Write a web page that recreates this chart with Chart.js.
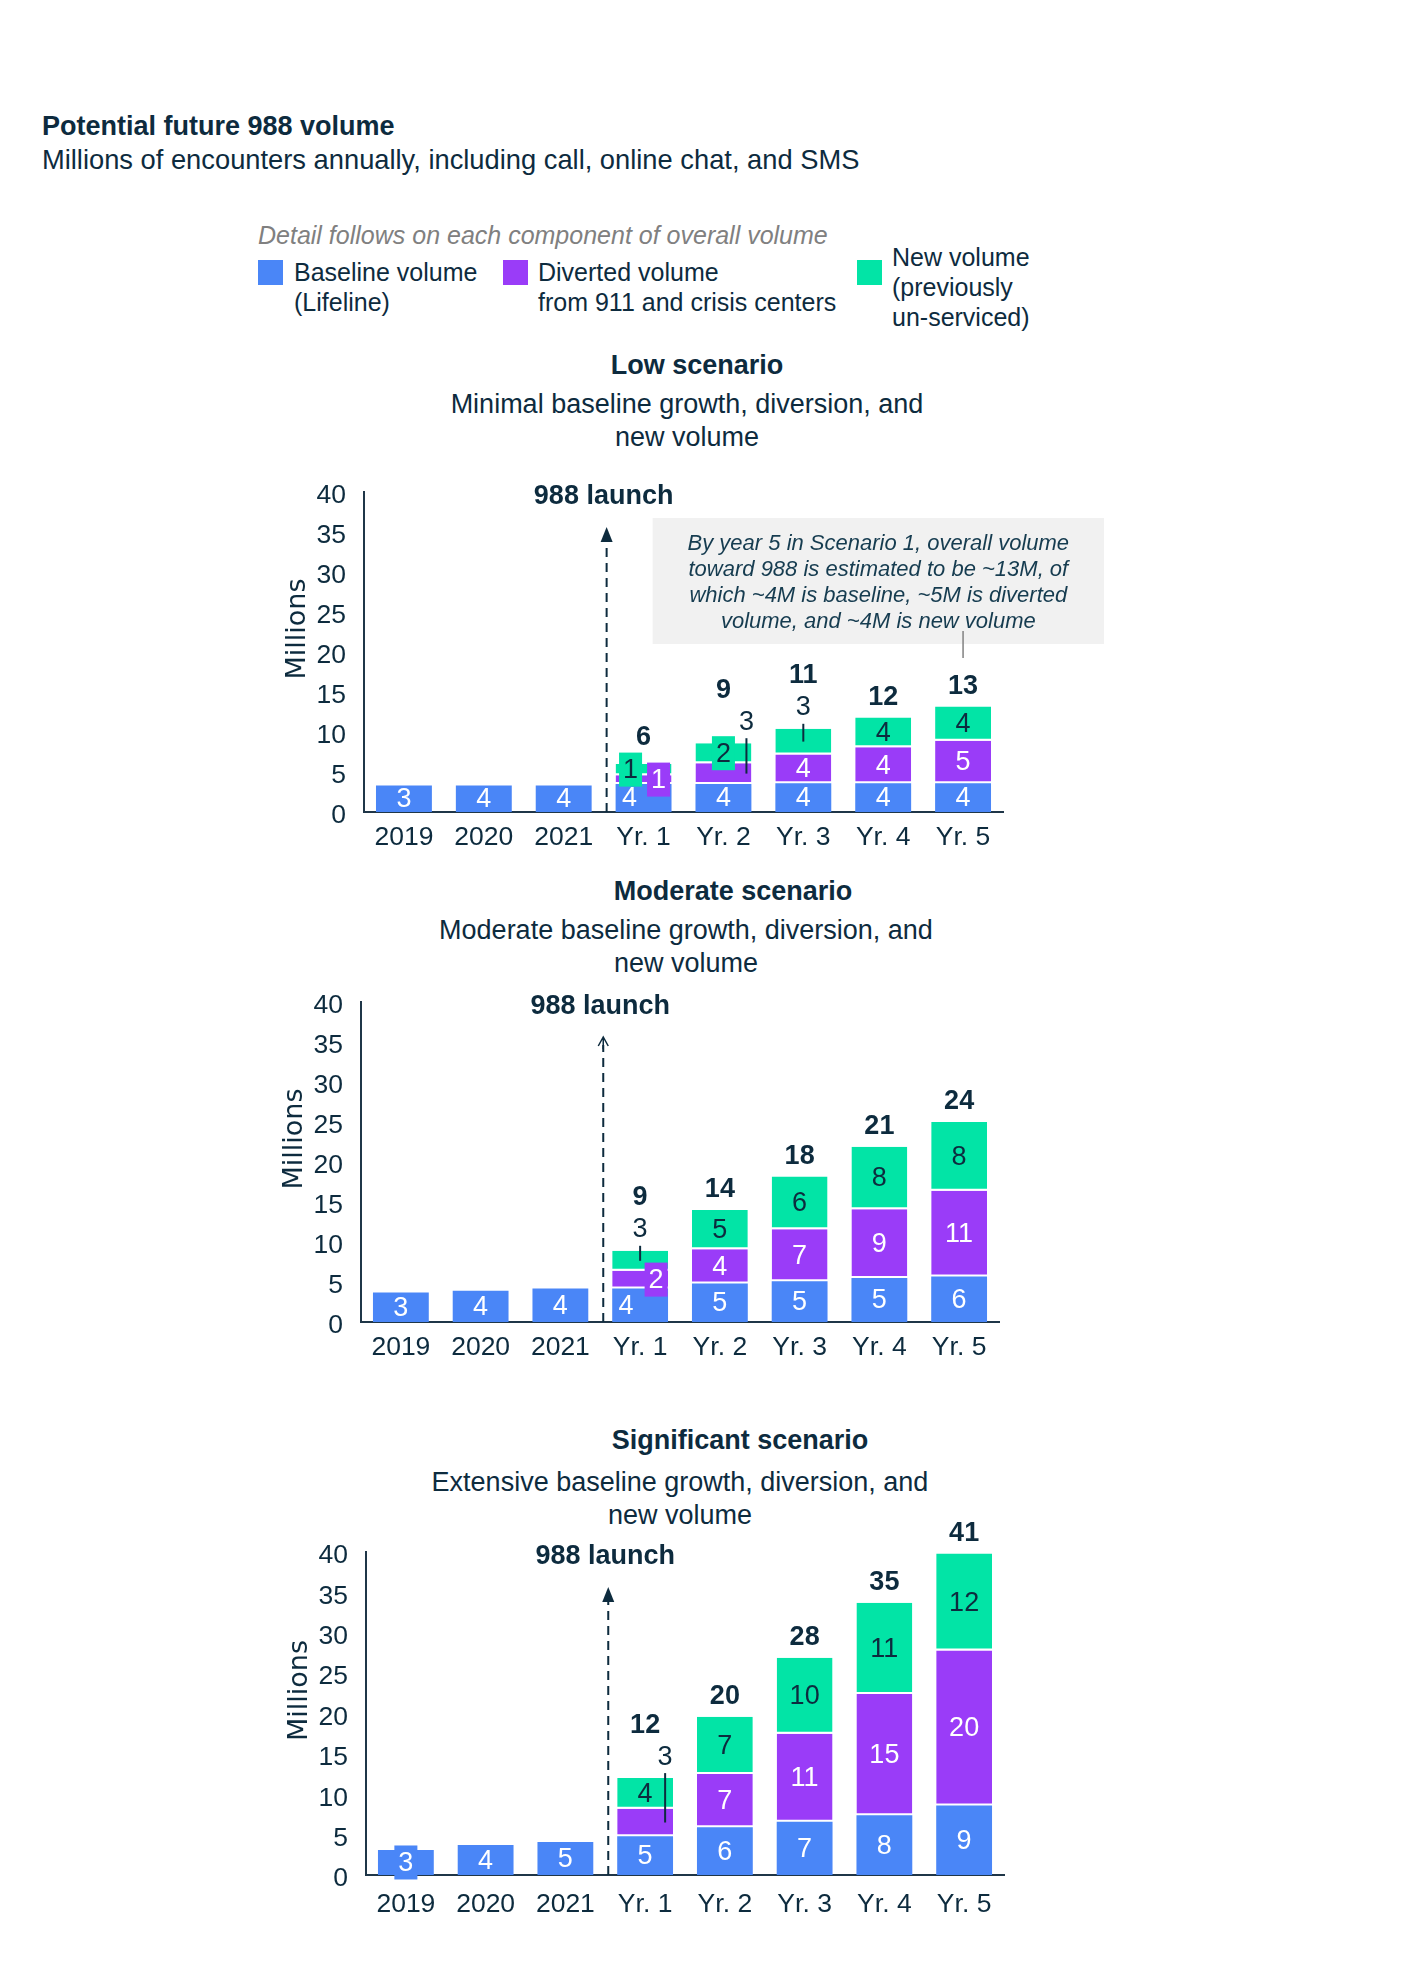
<!DOCTYPE html>
<html lang="en">
<head>
<meta charset="UTF-8">
<title>Potential future 988 volume</title>
<script src="https://cdn.jsdelivr.net/npm/chart.js"></script>
<style>
  body { margin: 0; background: #fff; }
  #page { position: relative; width: 1428px; height: 1964px; font-family: "Liberation Sans", Arial, sans-serif; color: #0d2b3e; }
  .t { position: absolute; white-space: nowrap; }
  .c { text-align: center; width: 800px; }
  .sw { position: absolute; width: 25px; height: 25px; }
  canvas { position: absolute; left: 0; }
</style>
</head>
<body>
<div id="page">
  <div class="t" style="left:42px; top:110px; font-size:27px; line-height:32px; font-weight:bold;">Potential future 988 volume</div>
  <div class="t" style="left:42px; top:144px; font-size:27.3px; line-height:32px;">Millions of encounters annually, including call, online chat, and SMS</div>

  <!-- legend -->
  <div class="t" style="left:258px; top:220px; font-size:25px; line-height:30px; font-style:italic; color:#808080;">Detail follows on each component of overall volume</div>
  <div class="sw" style="left:258px; top:260px; background:#4a86f7;"></div>
  <div class="t" style="left:294px; top:257px; font-size:25px; line-height:30px;">Baseline volume<br>(Lifeline)</div>
  <div class="sw" style="left:503px; top:260px; background:#9a3cf8;"></div>
  <div class="t" style="left:538px; top:257px; font-size:25px; line-height:30px;">Diverted volume<br>from 911 and crisis centers</div>
  <div class="sw" style="left:857px; top:260px; background:#02e4a6;"></div>
  <div class="t" style="left:892px; top:242px; font-size:25px; line-height:30px;">New volume<br>(previously<br>un-serviced)</div>

  <!-- scenario headings -->
  <div class="t c" style="left:297px; top:349px; font-size:27px; line-height:32px; font-weight:bold;">Low scenario</div>
  <div class="t c" style="left:287px; top:388px; font-size:27px; line-height:33px;">Minimal baseline growth, diversion, and<br>new volume</div>

  <div class="t c" style="left:333px; top:875px; font-size:27px; line-height:32px; font-weight:bold;">Moderate scenario</div>
  <div class="t c" style="left:286px; top:914px; font-size:27px; line-height:33px;">Moderate baseline growth, diversion, and<br>new volume</div>

  <div class="t c" style="left:340px; top:1424px; font-size:27px; line-height:32px; font-weight:bold;">Significant scenario</div>
  <div class="t c" style="left:280px; top:1466px; font-size:27px; line-height:33px;">Extensive baseline growth, diversion, and<br>new volume</div>

  <canvas id="lowChart"></canvas>
  <canvas id="modChart"></canvas>
  <canvas id="sigChart"></canvas>
</div>

<script>
  // ---- data ----
  const categories = ['2019', '2020', '2021', 'Yr. 1', 'Yr. 2', 'Yr. 3', 'Yr. 4', 'Yr. 5'];
  const yTicks = [0, 5, 10, 15, 20, 25, 30, 35, 40];

  // Low scenario (millions)
  const lowBaseline = [3.3, 3.3, 3.3, 3.5, 3.5, 3.6, 3.6, 3.6];
  const lowDiverted = [null, null, null, 1.1, 2.6, 3.6, 4.5, 5.3];
  const lowNew = [null, null, null, 1.4, 2.5, 3.2, 3.7, 4.3];
  const lowBaselineLabels = ['3', '4', '4', '4', '4', '4', '4', '4'];
  const lowDivertedLabels = [null, null, null, '1', '3', '4', '4', '5'];
  const lowNewLabels = [null, null, null, '1', '2', '3', '4', '4'];
  const lowTotals = [null, null, null, '6', '9', '11', '12', '13'];

  // Moderate scenario
  const modBaseline = [3.7, 3.9, 4.2, 4.2, 4.8, 5.1, 5.5, 5.7];
  const modDiverted = [null, null, null, 2.2, 4.3, 6.5, 8.6, 10.7];
  const modNew = [null, null, null, 2.5, 4.9, 6.6, 7.8, 8.6];
  const modBaselineLabels = ['3', '4', '4', '4', '5', '5', '5', '6'];
  const modDivertedLabels = [null, null, null, '2', '4', '7', '9', '11'];
  const modNewLabels = [null, null, null, '3', '5', '6', '8', '8'];
  const modTotals = [null, null, null, '9', '14', '18', '21', '24'];

  // Significant scenario
  const sigBaseline = [3.1, 3.7, 4.1, 4.8, 5.9, 6.6, 7.4, 8.6];
  const sigDiverted = [null, null, null, 3.4, 6.6, 10.9, 15.0, 19.2];
  const sigNew = [null, null, null, 3.8, 7.1, 9.4, 11.3, 12.0];
  const sigBaselineLabels = ['3', '4', '5', '5', '6', '7', '8', '9'];
  const sigDivertedLabels = [null, null, null, '3', '7', '11', '15', '20'];
  const sigNewLabels = [null, null, null, '4', '7', '10', '11', '12'];
  const sigTotals = [null, null, null, '12', '20', '28', '35', '41'];

  const lowNote = ['By year 5 in Scenario 1, overall volume',
                   'toward 988 is estimated to be ~13M, of',
                   'which ~4M is baseline, ~5M is diverted',
                   'volume, and ~4M is new volume'];

  // ---- styles ----
  const NAVY = '#0d2b3e';
  const AXIS = '#1f3648';
  const COLORS = ['#4a86f7', '#9a3cf8', '#02e4a6'];
  const FONT = '"Liberation Sans", Arial, sans-serif';
  const W = 1428;

  // draws segment labels, totals, callouts, launch arrow, axis title and note
  function marksPlugin(sc) {
    return {
      id: 'marks',
      afterDraw(chart) {
        const ctx = chart.ctx;
        const xs = chart.scales.x, ys = chart.scales.y, area = chart.chartArea;
        ctx.save();

        // "Millions"
        ctx.save();
        ctx.translate(area.left - 66, (area.top + area.bottom) / 2 - 23);
        ctx.rotate(-Math.PI / 2);
        ctx.font = '27px "DejaVu Sans"';
        ctx.fillStyle = NAVY;
        ctx.textAlign = 'center';
        ctx.textBaseline = 'middle';
        ctx.fillText('Millions', 0, 0);
        ctx.restore();

        // 988 launch arrow
        const lx = xs.getPixelForValue(2.5);
        const ax = lx + 3;
        const y40 = ys.getPixelForValue(40);
        const tip = y40 + 35;
        ctx.strokeStyle = NAVY;
        ctx.fillStyle = NAVY;
        ctx.lineWidth = 2;
        ctx.setLineDash([9, 6]);
        ctx.beginPath();
        ctx.moveTo(ax, area.bottom);
        ctx.lineTo(ax, tip + 8);
        ctx.stroke();
        ctx.setLineDash([]);
        if (sc.openArrow) {
          ctx.lineWidth = 1.5;
          ctx.beginPath();
          ctx.moveTo(ax - 5, tip + 9);
          ctx.lineTo(ax, tip);
          ctx.lineTo(ax + 5, tip + 9);
          ctx.moveTo(ax, tip);
          ctx.lineTo(ax, tip + 12);
          ctx.stroke();
        } else {
          ctx.beginPath();
          ctx.moveTo(ax, tip);
          ctx.lineTo(ax - 6, tip + 15);
          ctx.lineTo(ax + 6, tip + 15);
          ctx.closePath();
          ctx.fill();
        }
        ctx.font = 'bold 27px ' + FONT;
        ctx.textAlign = 'center';
        ctx.textBaseline = 'middle';
        ctx.fillText('988 launch', lx, y40 + 5);

        // segment labels
        ctx.font = '27px ' + FONT;
        const calloutY = {};
        const stackTop = i => {
          let top = Infinity;
          sc.series.forEach((s, k) => {
            if (s[i] !== null) top = Math.min(top, chart.getDatasetMeta(k).data[i].y);
          });
          return top;
        };
        sc.labels.forEach((labels, d) => {
          const meta = chart.getDatasetMeta(d);
          labels.forEach((txt, i) => {
            if (txt === null) return;
            const bar = meta.data[i];
            const mid = (bar.y + bar.base) / 2;
            const spec = sc.special[d + ':' + i] || {};
            const tx = bar.x + (spec.dx || 0);
            if (spec.callout) {
              const cy = stackTop(i) - 21;
              calloutY[i] = cy;
              ctx.fillStyle = NAVY;
              ctx.fillText(txt, tx, cy);
              ctx.strokeStyle = NAVY;
              ctx.lineWidth = 2;
              ctx.beginPath();
              ctx.moveTo(tx, cy + 16);
              ctx.lineTo(tx, mid);
              ctx.stroke();
              return;
            }
            if (spec.box) {
              const w = ctx.measureText(txt).width + 8;
              ctx.fillStyle = COLORS[d];
              ctx.fillRect(tx - w / 2, mid - 17, w, 34);
            }
            ctx.fillStyle = d === 2 ? NAVY : '#ffffff';
            ctx.fillText(txt, tx, mid + 1);
          });
        });

        // totals
        ctx.font = 'bold 27px ' + FONT;
        ctx.fillStyle = NAVY;
        sc.totals.forEach((txt, i) => {
          if (txt === null) return;
          const x = chart.getDatasetMeta(0).data[i].x;
          let y = calloutY[i] !== undefined ? calloutY[i] - 32 : stackTop(i) - 20;
          y += (sc.totalDy && sc.totalDy[i]) || 0;
          ctx.fillText(txt, x, y);
        });

        // note box (low scenario)
        if (sc.note) {
          const nx = xs.getPixelForValue(7);
          const left = ax + 46, right = nx + 141, top = y40 + 26, bottom = y40 + 152;
          ctx.fillStyle = '#f1f1f1';
          ctx.fillRect(left, top, right - left, bottom - top);
          ctx.font = 'italic 22px ' + FONT;
          ctx.fillStyle = '#163c50';
          sc.note.forEach((line, k) => ctx.fillText(line, (left + right) / 2, top + 26 + k * 26));
          ctx.strokeStyle = '#808080';
          ctx.lineWidth = 1.5;
          ctx.beginPath();
          ctx.moveTo(nx, y40 + 139);
          ctx.lineTo(nx, y40 + 166);
          ctx.stroke();
        }
        ctx.restore();
      }
    };
  }

  function makeChart(id, sc) {
    const padTop = 80, xAxisH = 55;
    const canvas = document.getElementById(id);
    canvas.width = W;
    canvas.height = (sc.bottom - sc.top) + padTop + xAxisH;
    canvas.style.top = (sc.top - padTop) + 'px';
    // white gap sits at the bottom of the upper segments
    const borders = [0, { top: 0, left: 0, right: 0, bottom: 2 }, { top: 0, left: 0, right: 0, bottom: 2 }];
    const names = ['Baseline volume (Lifeline)', 'Diverted volume from 911 and crisis centers', 'New volume (previously un-serviced)'];
    new Chart(canvas, {
      type: 'bar',
      data: {
        labels: categories,
        datasets: sc.series.map((s, k) => ({
          label: names[k],
          data: s,
          backgroundColor: COLORS[k],
          borderColor: '#ffffff',
          borderWidth: borders[k],
          borderSkipped: false,
          barPercentage: 0.7,
          categoryPercentage: 1
        }))
      },
      options: {
        responsive: false,
        animation: false,
        devicePixelRatio: 1,
        layout: { padding: { top: padTop, right: W - sc.right, bottom: 0, left: 0 } },
        plugins: { legend: { display: false }, tooltip: { enabled: false } },
        scales: {
          x: {
            stacked: true,
            grid: { display: false, drawTicks: false },
            border: { display: true, color: AXIS, width: 2 },
            ticks: { color: NAVY, font: { family: FONT, size: 26.5 }, padding: sc.xPad || 10 },
            afterFit(s) { s.height = xAxisH; }
          },
          y: {
            stacked: true,
            min: 0,
            max: 40,
            afterBuildTicks(s) { s.ticks = yTicks.map(v => ({ value: v })); },
            grid: { display: false, drawTicks: false },
            border: { display: true, color: AXIS, width: 2 },
            ticks: { color: NAVY, font: { family: FONT, size: 26.5 }, padding: 18, labelOffset: 4 },
            afterFit(s) { s.width = sc.left; }
          }
        }
      },
      plugins: [marksPlugin(sc)]
    });
  }

  makeChart('lowChart', {
    top: 492, bottom: 812, left: 364, right: 1003,
    series: [lowBaseline, lowDiverted, lowNew],
    labels: [lowBaselineLabels, lowDivertedLabels, lowNewLabels],
    totals: lowTotals,
    totalDy: { 3: -6 },
    special: {
      '0:3': { dx: -14 },
      '1:3': { dx: 15, box: true },
      '2:3': { dx: -13, box: true },
      '1:4': { dx: 23, callout: true },
      '2:4': { box: true },
      '2:5': { callout: true }
    },
    note: lowNote
  });

  makeChart('modChart', {
    top: 1002, bottom: 1322, left: 361, right: 999,
    series: [modBaseline, modDiverted, modNew],
    labels: [modBaselineLabels, modDivertedLabels, modNewLabels],
    totals: modTotals,
    special: {
      '0:3': { dx: -14 },
      '1:3': { dx: 16, box: true },
      '2:3': { callout: true }
    },
    openArrow: true
  });

  makeChart('sigChart', {
    top: 1552, bottom: 1875, left: 366, right: 1004,
    series: [sigBaseline, sigDiverted, sigNew],
    labels: [sigBaselineLabels, sigDivertedLabels, sigNewLabels],
    totals: sigTotals,
    xPad: 14,
    special: {
      '0:0': { box: true },
      '1:3': { dx: 20, callout: true }
    }
  });
</script>
</body>
</html>
